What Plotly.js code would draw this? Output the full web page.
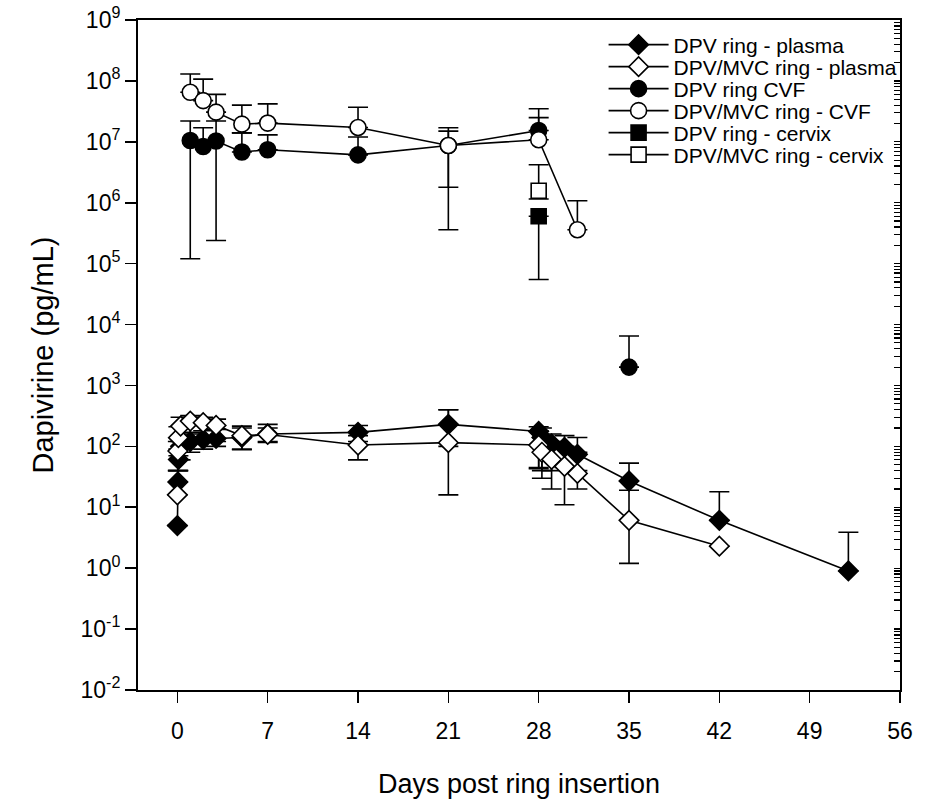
<!DOCTYPE html>
<html>
<head>
<meta charset="utf-8">
<script src="https://cdn.plot.ly/plotly-3.0.1.min.js"></script>
<style>html,body{margin:0;padding:0;background:#fff;}#chart{width:930px;height:801px;}</style>
</head>
<body>
<div id="chart"></div>
<script>
// ---- data ----
const seriesNames = ["DPV ring - plasma", "DPV/MVC ring - plasma", "DPV ring CVF", "DPV/MVC ring - CVF", "DPV ring - cervix", "DPV/MVC ring - cervix"];

const dpvPlasmaDays = [0, 0.04, 0.08, 0.25, 1, 2, 3, 5, 7, 14, 21, 28, 28.25, 29, 30, 31, 35, 42, 52];
const dpvPlasmaVal  = [5, 26, 61, 100, 120, 130, 135, 140, 160, 170, 230, 176, 140, 110, 96, 74, 27, 6.1, 0.9];
const dpvPlasmaHi   = [null, 40, 90, 150, 170, 180, 190, 200, 200, 220, 400, 210, 200, 160, 150, 140, 53, 18, 3.9];
const dpvPlasmaLo   = [null, null, 40, 60, 80, 90, 100, 90, 120, 120, 100, 45, 40, 40, 45, 40, null, null, null];

const mvcPlasmaDays = [0, 0.04, 0.08, 0.25, 1, 2, 3, 5, 7, 14, 21, 28, 28.25, 29, 30, 31, 35, 42];
const mvcPlasmaVal  = [16, 84, 139, 215, 260, 245, 221, 150, 157, 105, 115, 105, 80, 61, 47, 36, 6.1, 2.3];
const mvcPlasmaHi   = [null, 120, 210, 300, 320, 300, 280, 215, 230, 150, 400, 180, 140, 120, 100, 80, 19, null];
const mvcPlasmaLo   = [null, 40, 70, 120, 160, 130, 120, 88, 116, 60, 16, 43, 30, 20, 11, 20, 1.2, null];

const dpvCvfDays = [1, 2, 3, 5, 7, 14, 21, 28, 31, 35];
const dpvCvfVal  = [1.05e7, 8.4e6, 1.03e7, 6.8e6, 7.4e6, 6.1e6, 8.7e6, 1.53e7, null, 2000];
const dpvCvfHi   = [2.2e7, 1.7e7, 2.2e7, 1.4e7, 1.3e7, 1.2e7, 1.5e7, 3.5e7, null, 6500];
const dpvCvfLo   = [1.2e5, null, 2.4e5, null, null, null, 3.6e5, null, null, null];

const mvcCvfDays = [1, 2, 3, 5, 7, 14, 21, 28, 31];
const mvcCvfVal  = [6.5e7, 4.75e7, 3.07e7, 1.95e7, 2.03e7, 1.72e7, 8.7e6, 1.08e7, 3.6e5];
const mvcCvfHi   = [1.3e8, 1.07e8, 6e7, 4e7, 4.2e7, 3.7e7, 1.7e7, 2.5e7, 1.08e6];
const mvcCvfLo   = [null, null, null, 1.4e7, null, null, 1.8e6, null, null];

const dpvCervixDays = [28];
const dpvCervixVal  = [6e5];
const dpvCervixHi   = [null];
const dpvCervixLo   = [5.5e4];

const mvcCervixDays = [28];
const mvcCervixVal  = [1.57e6];
const mvcCervixHi   = [4.2e6];
const mvcCervixLo   = [1.15e6];

const xTickVals = [0, 7, 14, 21, 28, 35, 42, 49, 56];
const yTickExps = [-2, -1, 0, 1, 2, 3, 4, 5, 6, 7, 8, 9];

// ---- build traces ----
function errs(v, hi, lo) {
  return {
    type: 'data', symmetric: false, visible: true,
    array: v.map((y, i) => (y != null && hi[i] != null) ? hi[i] - y : 0),
    arrayminus: v.map((y, i) => (y != null && lo[i] != null) ? y - lo[i] : 0),
    color: '#000', thickness: 1.6, width: 10
  };
}
function trace(idx, x, y, hi, lo, symbol, fill, size) {
  return {
    type: 'scatter', mode: 'lines+markers', name: seriesNames[idx], x: x, y: y,
    legend: idx === 0 ? 'legend' : 'legend' + (idx + 1),
    connectgaps: false, hoverinfo: 'skip', cliponaxis: false,
    line: {color: '#000', width: 1.6},
    marker: {symbol: symbol, size: size, color: fill, line: {color: '#000', width: 1.6}},
    error_y: errs(y, hi, lo)
  };
}
const data = [
  trace(0, dpvPlasmaDays, dpvPlasmaVal, dpvPlasmaHi, dpvPlasmaLo, 'diamond', '#000', 15),
  trace(1, mvcPlasmaDays, mvcPlasmaVal, mvcPlasmaHi, mvcPlasmaLo, 'diamond', '#fff', 15),
  trace(2, dpvCvfDays, dpvCvfVal, dpvCvfHi, dpvCvfLo, 'circle', '#000', 16),
  trace(3, mvcCvfDays, mvcCvfVal, mvcCvfHi, mvcCvfLo, 'circle', '#fff', 16),
  trace(4, dpvCervixDays, dpvCervixVal, dpvCervixHi, dpvCervixLo, 'square', '#000', 15),
  trace(5, mvcCervixDays, mvcCervixVal, mvcCervixHi, mvcCervixLo, 'square', '#fff', 15),
  {type: 'scatter', x: [], y: [], yaxis: 'y2', showlegend: false, hoverinfo: 'skip'}
];

const fontFam = 'Liberation Sans, Arial, sans-serif';
// plot area: top 20px, bottom 690px (670px tall)
const legendRowPx = [45, 67, 89, 111, 133, 155];
function legendBox(py) {
  return {x: 0.611, y: (690 - py) / 670, xanchor: 'left', yanchor: 'middle',
          bgcolor: 'rgba(0,0,0,0)', borderwidth: 0,
          font: {family: fontFam, size: 21, color: '#000'}, itemwidth: 60};
}
const layout = {
  width: 930, height: 801,
  margin: {l: 138, r: 30, t: 20, b: 111},
  paper_bgcolor: '#fff', plot_bgcolor: '#fff',
  font: {family: fontFam, color: '#000', size: 22},
  showlegend: true,
  xaxis: {
    range: [-3.05, 56], tickmode: 'array', tickvals: xTickVals,
    ticks: 'outside', ticklen: 11, tickwidth: 1.6, tickcolor: '#000',
    showline: true, linewidth: 2, linecolor: '#000', mirror: true,
    showgrid: false, zeroline: false, ticklabelstandoff: 8,
    tickfont: {family: fontFam, size: 23},
    title: {text: 'Days post ring insertion', font: {family: fontFam, size: 27}, standoff: 32}
  },
  yaxis: {
    type: 'log', range: [-2, 9], tickmode: 'array',
    tickvals: yTickExps.map(e => Math.pow(10, e)),
    ticktext: yTickExps.map(e => '10<sup>' + e + '</sup>'),
    ticks: 'outside', ticklen: 11, tickwidth: 1.6, tickcolor: '#000',
    showline: true, linewidth: 2, linecolor: '#000',
    showgrid: false, zeroline: false,
    tickfont: {family: fontFam, size: 23},
    title: {text: 'Dapivirine (pg/mL)', font: {family: fontFam, size: 29}, standoff: 18}
  },
  yaxis2: {
    type: 'log', range: [-2, 9], overlaying: 'y', side: 'right', dtick: 'D1',
    showticklabels: false, ticks: 'inside', ticklen: 6, tickwidth: 1.2, tickcolor: '#000',
    showline: true, linewidth: 2, linecolor: '#000', showgrid: false, zeroline: false
  }
};
layout.legend = legendBox(legendRowPx[0]);
for (let i = 1; i < 6; i++) layout['legend' + (i + 1)] = legendBox(legendRowPx[i]);
Plotly.newPlot('chart', data, layout, {staticPlot: true, displayModeBar: false});
</script>
</body>
</html>
